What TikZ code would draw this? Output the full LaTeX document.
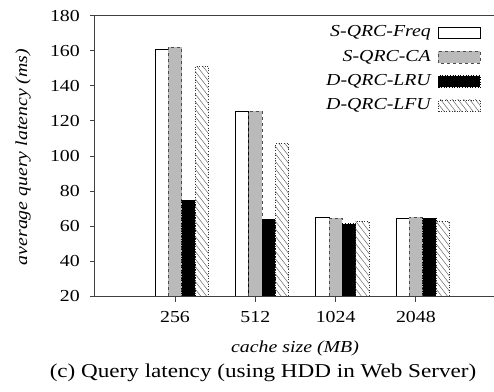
\documentclass[tikz,border=0pt]{standalone}
\usepackage{fontspec}
\setmainfont{Liberation Serif}[FakeStretch=1.18]

\tikzset{
  axisline/.style = {draw=black!75, line width=0.9pt},
  ticklbl/.style  = {font=\fontsize{16.8}{18}\selectfont, inner sep=0pt},
  itlbl/.style    = {font=\fontsize{16.8}{18}\selectfont\itshape, inner sep=0pt},
  hatch/.style    = {draw=black!60, solid, line width=0.5pt},
  freqbar/.style  = {draw=black, line width=0.6pt, fill=white},
  cabar/.style    = {draw=black!70, line width=0.6pt, dashed, fill=black!27},
  lrubar/.style   = {draw=black, line width=0.6pt, dotted, fill=black},
  lfubar/.style   = {draw=black!80, line width=0.6pt, dotted,
                     path picture={
                       \foreach \k in {0,...,34}
                         \draw[hatch] ([yshift=\k*7.5pt]path picture bounding box.south west)
                           -- ++(45pt,-58pt);
                     }}
}

\begin{document}
\begin{tikzpicture}[x=1pt,y=1pt]
\useasboundingbox (0,0) rectangle (494,391);

\begin{scope}[shift={(94.7,59.62)}, x=80.3pt, y=1.754pt]
\foreach \lbl/\a/\b/\c/\d [count=\i] in
  {256/161/162/75/151, 512/125.5/125.5/64/107,
   1024/65/64.5/61.5/62.5, 2048/64.5/65/64.5/62.5}{
  \draw[freqbar] (\i-0.25,20)     rectangle (\i-0.25+1/6,\a);
  \draw[cabar]   (\i-0.25+1/6,20) rectangle (\i-0.25+2/6,\b);
  \draw[lrubar]  (\i-0.25+2/6,20) rectangle (\i-0.25+3/6,\c);
  \draw[lfubar]  (\i-0.25+3/6,20) rectangle (\i-0.25+4/6,\d);
  \draw[axisline] (\i,20) -- ++(0,-6pt);
  \node[ticklbl] (xt\i) at ([yshift=-20.7pt]\i,20) {\lbl};
}
\foreach \v in {20,40,...,180}{
  \draw[axisline] (0,\v) -- ++(-5pt,0);
  \node[ticklbl, anchor=east] (yt\v) at ([xshift=-14.7pt]0,\v) {\v};
}
\draw[axisline] (4.97,180) -- (0,180) -- (0,20) -- (4.97,20);
\end{scope}

\foreach \sty/\txt/\yy [count=\r] in
  {freqbar/S-QRC-Freq/358.2, cabar/S-QRC-CA/333.7,
   lrubar/D-QRC-LRU/309.5, lfubar/D-QRC-LFU/285.3}{
  \draw[\sty] (438.3,\yy-5.85) rectangle (480.3,\yy+5.85);
  \node[itlbl, anchor=east] (leg\r) at (431,\yy) {\txt};
}

\node[itlbl, rotate=90] (ylab) at (23,234) {average query latency (ms)};
\node[itlbl] (xlab) at (295,43) {cache size (MB)};
\node[font=\fontsize{19.6}{22}\selectfont, inner sep=0pt] (cap) at (263,18)
  {(c) Query latency (using HDD in Web Server)};
\end{tikzpicture}
\end{document}
